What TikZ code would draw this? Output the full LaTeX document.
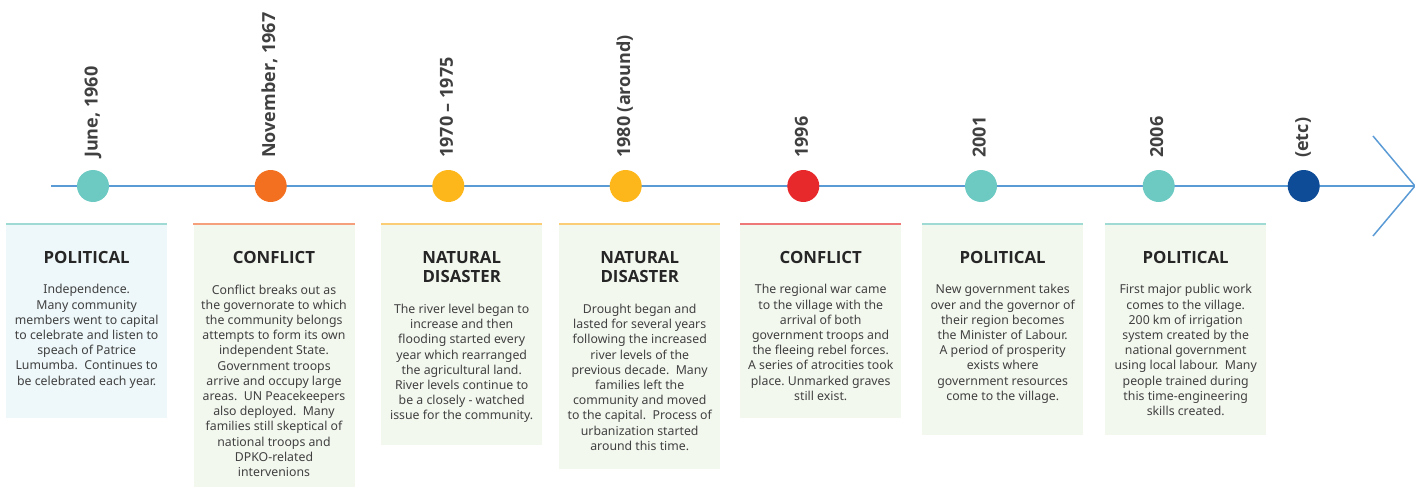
\documentclass[tikz,border=0pt]{standalone}
\usepackage{fontspec}
\setmainfont{Noto Sans}
\newfontfamily\headfont{Open Sans}
\definecolor{lineblue}{HTML}{5B9BD5}
\definecolor{cteal}{HTML}{6DCAC3}
\definecolor{corange}{HTML}{F37021}
\definecolor{cyellow}{HTML}{FDB71A}
\definecolor{cred}{HTML}{E8292C}
\definecolor{cnavy}{HTML}{0E4C97}
\definecolor{fillblue}{HTML}{EEF7F9}
\definecolor{fillgreen}{HTML}{F3F8EF}
\definecolor{bteal}{HTML}{9FDBD4}
\definecolor{borange}{HTML}{F5A07A}
\definecolor{byellow}{HTML}{FBCD74}
\definecolor{bred}{HTML}{EE7777}
\definecolor{txt}{HTML}{404040}
\definecolor{ttl}{HTML}{262626}
\frenchspacing
\begin{document}
\begin{tikzpicture}[x=1pt,y=-1pt,
  dot/.style={circle, minimum size=32pt, inner sep=0pt, draw=none},
  datelabel/.style={rotate=90, anchor=base west, inner sep=0pt, font=\headfont\bfseries\fontsize{18}{20}\selectfont, text=txt},
  card/.style={anchor=north west, inner sep=0pt, minimum width=161pt, draw=none},
  topline/.style={line width=2pt},
  cardtitle/.style={anchor=north, inner sep=0pt, align=center, font=\headfont\bfseries\fontsize{16.8}{19.7}\selectfont, text=ttl},
  cardbody/.style={anchor=north, inner sep=0pt, align=center, font=\fontsize{12.3}{15.2}\selectfont, text=txt},
  axis/.style={draw=lineblue, line width=2pt},
  chev/.style={draw=lineblue, line width=1.5pt}
]
\useasboundingbox (0,0) rectangle (1415,487);

% timeline
\coordinate (ls) at (51,186);
\coordinate (le) at (1415,186);
\coordinate (ct) at (1373,136);
\coordinate (cb) at (1373,236);
\draw[axis] (ls) -- (le);
\draw[chev] (ct) -- (le) -- (cb);

% dots
\node[dot, fill=cteal]   (c1) at (93,186) {};
\node[dot, fill=corange] (c2) at (270.7,186) {};
\node[dot, fill=cyellow] (c3) at (448.3,186) {};
\node[dot, fill=cyellow] (c4) at (625.7,186) {};
\node[dot, fill=cred]    (c5) at (803.3,186) {};
\node[dot, fill=cteal]   (c6) at (981,186) {};
\node[dot, fill=cteal]   (c7) at (1158.7,186) {};
\node[dot, fill=cnavy]   (c8) at (1303.7,186) {};

% date labels
\node[datelabel] (d1) at (97.5,158) {June, 1960};
\node[datelabel] (d2) at (275.2,158) {November, 1967};
\node[datelabel] (d3) at (452.8,158) {1970 – 1975};
\node[datelabel] (d4) at (630.2,158) {1980 (around)};
\node[datelabel] (d5) at (807.8,158) {1996};
\node[datelabel] (d6) at (985.5,158) {2001};
\node[datelabel] (d7) at (1163.2,158) {2006};
\node[datelabel] (d8) at (1308.2,158) {(etc)};

% cards
\node[card, fill=fillblue,  minimum height=194.2pt] (k1) at (6,223.5) {};
\node[card, fill=fillgreen, minimum height=263.5pt] (k2) at (193.3,223.5) {};
\node[card, fill=fillgreen, minimum height=220.8pt] (k3) at (381,223.5) {};
\node[card, fill=fillgreen, minimum height=244.8pt] (k4) at (559,223.5) {};
\node[card, fill=fillgreen, minimum height=193.8pt] (k5) at (740,223.5) {};
\node[card, fill=fillgreen, minimum height=210.8pt] (k6) at (922,223.5) {};
\node[card, fill=fillgreen, minimum height=210.8pt] (k7) at (1105,223.5) {};

\draw[topline, draw=bteal]   (k1.north west) -- (k1.north east);
\draw[topline, draw=borange] (k2.north west) -- (k2.north east);
\draw[topline, draw=byellow] (k3.north west) -- (k3.north east);
\draw[topline, draw=byellow] (k4.north west) -- (k4.north east);
\draw[topline, draw=bred]    (k5.north west) -- (k5.north east);
\draw[topline, draw=bteal]   (k6.north west) -- (k6.north east);
\draw[topline, draw=bteal]   (k7.north west) -- (k7.north east);

% titles
\node[cardtitle] (h1) at ([yshift=-27.5pt]k1.north) {POLITICAL};
\node[cardtitle] (h2) at ([yshift=-27.5pt]k2.north) {CONFLICT};
\node[cardtitle] (h3) at ([yshift=-27.5pt]k3.north) {NATURAL\\DISASTER};
\node[cardtitle] (h4) at ([yshift=-27.5pt]k4.north) {NATURAL\\DISASTER};
\node[cardtitle] (h5) at ([yshift=-27.5pt]k5.north) {CONFLICT};
\node[cardtitle] (h6) at ([yshift=-27.5pt]k6.north) {POLITICAL};
\node[cardtitle] (h7) at ([yshift=-27.5pt]k7.north) {POLITICAL};

% bodies
\node[cardbody] (p1) at ([yshift=-20.7pt]h1.south) {Independence.\\Many community\\members went to capital\\to celebrate and listen to\\speach of Patrice\\Lumumba.~~Continues to\\be celebrated each year.};
\node[cardbody] (p2) at ([yshift=-20.7pt]h2.south) {Conflict breaks out as\\the governorate to which\\the community belongs\\attempts to form its own\\independent State.\\Government troops\\arrive and occupy large\\areas.~~UN Peacekeepers\\also deployed.~~Many\\families still skeptical of\\national troops and\\DPKO-related\\intervenions};
\node[cardbody] (p3) at ([yshift=-20.7pt]h3.south) {The river level began to\\increase and then\\flooding started every\\year which rearranged\\the agricultural land.\\River levels continue to\\be a closely - watched\\issue for the community.};
\node[cardbody] (p4) at ([yshift=-20.7pt]h4.south) {Drought began and\\lasted for several years\\following the increased\\river levels of the\\previous decade.~~Many\\families left the\\community and moved\\to the capital.~~Process of\\urbanization started\\around this time.};
\node[cardbody] (p5) at ([yshift=-20.7pt]h5.south) {The regional war came\\to the village with the\\arrival of both\\government troops and\\the fleeing rebel forces.\\A series of atrocities took\\place. Unmarked graves\\still exist.};
\node[cardbody] (p6) at ([yshift=-20.7pt]h6.south) {New government takes\\over and the governor of\\their region becomes\\the Minister of Labour.\\A period of prosperity\\exists where\\government resources\\come to the village.};
\node[cardbody] (p7) at ([yshift=-20.7pt]h7.south) {First major public work\\comes to the village.\\200 km of irrigation\\system created by the\\national government\\using local labour.~~Many\\people trained during\\this time-engineering\\skills created.};
\end{tikzpicture}
\end{document}
